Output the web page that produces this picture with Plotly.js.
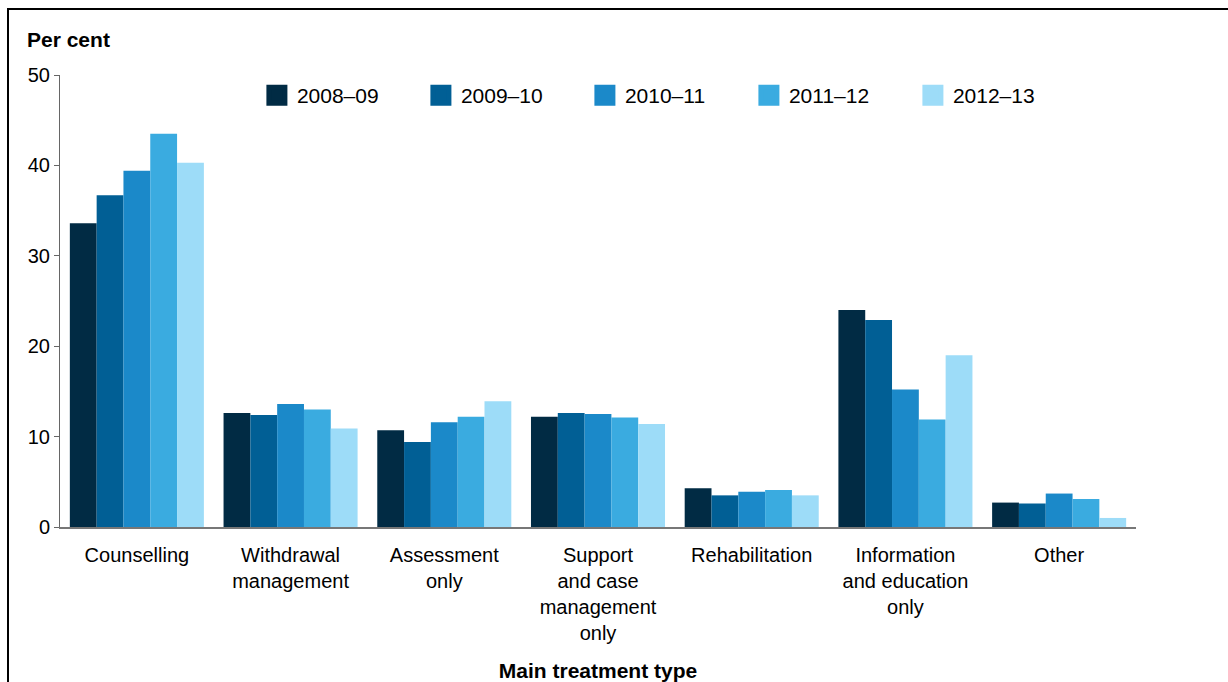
<!DOCTYPE html>
<html>
<head>
<meta charset="utf-8">
<script src="https://cdn.plot.ly/plotly-3.0.1.min.js"></script>
<style>
  html, body { margin: 0; padding: 0; background: #fff; }
  #wrap { position: relative; width: 1228px; height: 682px; overflow: hidden; }
  #chart { position: absolute; left: 0; top: 0; width: 1228px; height: 682px; }
  #frame { position: absolute; left: 7px; top: 8px; width: 1300px; height: 800px;
           border-left: 2px solid #000; border-top: 2px solid #000; pointer-events: none; }
</style>
</head>
<body>
<div id="wrap">
  <div id="chart"></div>
  <div id="frame"></div>
</div>
<script>
const categories = [
  "Counselling",
  "Withdrawal<br>management",
  "Assessment<br>only",
  "Support<br>and case<br>management<br>only",
  "Rehabilitation",
  "Information<br>and education<br>only",
  "Other"
];
const seriesNames = ["2008–09", "2009–10", "2010–11", "2011–12", "2012–13"];
const v2008_09 = [33.6, 12.6, 10.7, 12.2, 4.3, 24.0, 2.7];
const v2009_10 = [36.7, 12.4,  9.4, 12.6, 3.5, 22.9, 2.6];
const v2010_11 = [39.4, 13.6, 11.6, 12.5, 3.9, 15.2, 3.7];
const v2011_12 = [43.5, 13.0, 12.2, 12.1, 4.1, 11.9, 3.1];
const v2012_13 = [40.3, 10.9, 13.9, 11.4, 3.5, 19.0, 1.0];
const seriesValues = [v2008_09, v2009_10, v2010_11, v2011_12, v2012_13];
const colors = ["#012b44", "#015f95", "#1b89c9", "#3aabe0", "#9ddcf8"];
const yTicks = [0, 10, 20, 30, 40, 50];

const FONT = "'Liberation Sans', Arial, sans-serif";

const traces = [];
seriesNames.forEach((name, i) => {
  traces.push({
    type: "bar",
    name: name,
    x: categories,
    y: seriesValues[i],
    marker: { color: colors[i], line: { width: 0 } },
    showlegend: false,
    legendgroup: name,
    hoverinfo: "x+y+name"
  });
});
// legend entries with larger square swatches
seriesNames.forEach((name, i) => {
  traces.push({
    type: "scatter",
    mode: "markers",
    name: name,
    x: [null],
    y: [null],
    marker: { symbol: "square", size: 16, color: colors[i], line: { color: colors[i], width: 5 } },
    legendgroup: name,
    showlegend: true,
    hoverinfo: "skip"
  });
});

const layout = {
  width: 1228,
  height: 682,
  margin: { l: 60, r: 92, t: 75, b: 155, pad: 0 },
  paper_bgcolor: "#ffffff",
  plot_bgcolor: "#ffffff",
  font: { family: FONT, size: 20, color: "#000" },
  barmode: "group",
  bargap: 0.128,
  bargroupgap: 0,
  showlegend: true,
  legend: {
    orientation: "h",
    x: 0.183,
    xanchor: "left",
    y: 1.0,
    yanchor: "top",
    font: { family: FONT, size: 21, color: "#000" },
    entrywidth: 119,
    entrywidthmode: "pixels",
    bgcolor: "rgba(0,0,0,0)",
    borderwidth: 0,
    itemclick: false,
    itemdoubleclick: false
  },
  xaxis: {
    type: "category",
    range: [-0.5, 6.5],
    showgrid: false,
    zeroline: false,
    showline: true,
    linecolor: "#777777",
    linewidth: 2,
    ticks: "",
    tickfont: { family: FONT, size: 20, color: "#000" },
    ticklabelstandoff: 9,
    automargin: false,
    title: {
      text: "<b>Main treatment type</b>",
      font: { family: FONT, size: 21, color: "#000" },
      standoff: 20
    }
  },
  yaxis: {
    range: [0, 50],
    tickvals: yTicks,
    ticktext: yTicks.map(String),
    showgrid: false,
    zeroline: false,
    showline: true,
    linecolor: "#666666",
    linewidth: 1,
    ticks: "outside",
    ticklen: 5,
    tickwidth: 1,
    tickcolor: "#666666",
    tickfont: { family: FONT, size: 20, color: "#000" },
    automargin: false
  },
  annotations: [
    {
      text: "<b>Per cent</b>",
      xref: "paper", yref: "paper",
      x: -35 / 1076, y: 1 + 35 / 452,
      xanchor: "left", yanchor: "middle",
      showarrow: false,
      font: { family: FONT, size: 21, color: "#000" }
    }
  ]
};

Plotly.newPlot("chart", traces, layout, { displayModeBar: false, staticPlot: true });
</script>
</body>
</html>
